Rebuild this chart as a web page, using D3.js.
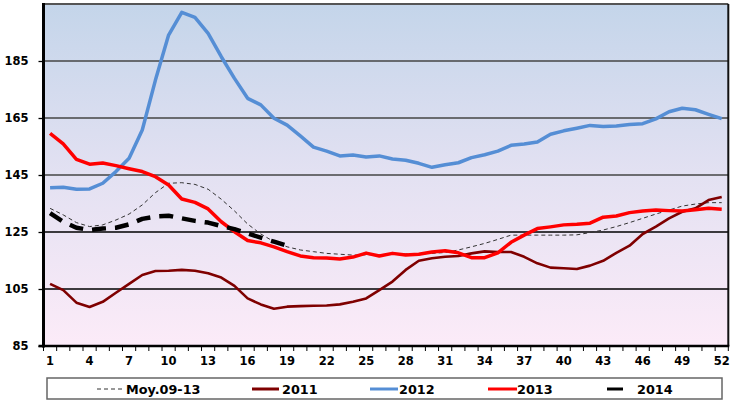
<!DOCTYPE html>
<html>
<head>
<meta charset="utf-8">
<script src="https://cdn.jsdelivr.net/npm/d3@7"></script>
<style>
html,body{margin:0;padding:0;background:#fff;}
svg{display:block;font-family:"DejaVu Sans",Arial,sans-serif;}
</style>
</head>
<body>
<svg id="chart" width="734" height="404"></svg>
<script>
const weeks = d3.range(1, 53);
const xTickLabels = [1,4,7,10,13,16,19,22,25,28,31,34,37,40,43,46,49,52];
const yTicks = [85,105,125,145,165,185];

const moy = [133.3,131.0,128.3,126.9,127.5,129.2,131.3,134.5,138.8,142.1,142.3,141.7,140.0,136.5,132.4,127.8,124.3,121.6,119.8,118.7,118.1,117.5,117.2,116.9,117.0,117.1,117.2,117.3,117.4,117.5,117.8,118.7,119.8,121.0,122.4,123.9,123.9,123.9,123.9,123.9,124.0,124.8,125.7,126.9,128.3,129.8,131.3,132.7,134.1,134.8,135.3,135.3];
const s2011 = [106.8,104.6,100.2,98.7,100.5,103.7,106.8,109.9,111.3,111.4,111.7,111.4,110.5,109.0,106.1,101.7,99.6,98.1,98.8,99.0,99.1,99.2,99.6,100.5,101.7,104.6,107.6,111.7,114.9,115.8,116.3,116.6,117.5,118.2,118.0,118.0,116.3,114.0,112.5,112.3,112.0,113.2,114.9,117.7,120.2,124.3,126.9,129.8,132.1,133.3,136.2,137.3];
const s2012 = [140.5,140.7,140.0,140.1,142.1,146.2,150.9,160.8,178.3,194.1,202.1,200.3,194.7,186.5,178.9,171.9,169.6,164.9,162.5,158.7,154.8,153.4,151.7,152.0,151.3,151.7,150.6,150.2,149.1,147.7,148.6,149.3,151.1,152.1,153.4,155.4,155.9,156.6,159.3,160.5,161.4,162.4,162.0,162.2,162.7,163.0,164.7,167.2,168.4,167.9,166.3,164.8];
const s2013 = [159.6,155.9,150.5,148.8,149.2,148.3,147.2,146.2,144.4,141.5,136.6,135.4,133.1,128.6,125.1,122.0,121.2,119.8,118.1,116.6,116.0,115.9,115.5,116.2,117.6,116.6,117.5,116.9,117.2,118.0,118.4,117.7,116.0,116.0,117.7,121.4,123.9,126.2,126.8,127.5,127.7,128.1,130.2,130.6,131.8,132.4,132.7,132.5,132.4,132.8,133.3,133.0];
const s2014 = [131.6,128.6,126.5,125.7,126.2,126.5,127.7,129.6,130.4,130.7,129.8,128.9,128.3,127.1,126.0,124.5,123.0,121.6,120.2];

const seriesList = [
  {name:"Moy.09-13", values:moy, color:"#333", width:1, dash:"4,3"},
  {name:"2011", values:s2011, color:"#7f0000", width:2.6, dash:null},
  {name:"2012", values:s2012, color:"#558ed5", width:3.5, dash:null},
  {name:"2013", values:s2013, color:"#ff0000", width:3.5, dash:null},
  {name:"2014", values:s2014, color:"#000", width:4.5, dash:"14,9"}
];

const svg = d3.select("#chart");
const L = 43.5, R = 728.3, T = 4, B = 346;

const x = d3.scaleBand().domain(weeks).range([L, R]).padding(0);
const y = d3.scaleLinear().domain([85, 205]).range([B, T]);

const defs = svg.append("defs");
const grad = defs.append("linearGradient").attr("id","bg").attr("x1",0).attr("y1",0).attr("x2",0).attr("y2",1);
grad.append("stop").attr("offset","0%").attr("stop-color","#c4d5ea");
grad.append("stop").attr("offset","50%").attr("stop-color","#e3e1f2");
grad.append("stop").attr("offset","100%").attr("stop-color","#fcebf8");

svg.append("rect").attr("x",L).attr("y",T).attr("width",R-L).attr("height",B-T).attr("fill","url(#bg)");

// gridlines
svg.append("g").selectAll("line").data(yTicks.filter(v=>v>85)).join("line")
  .attr("x1",L).attr("x2",R).attr("y1",d=>y(d)).attr("y2",d=>y(d))
  .attr("stroke",d=> d>=145 ? "#444" : "#000").attr("stroke-width",1.3);

// frame top/right
svg.append("line").attr("x1",L).attr("x2",R).attr("y1",T).attr("y2",T).attr("stroke","#555").attr("stroke-width",2);
svg.append("line").attr("x1",R).attr("x2",R).attr("y1",T).attr("y2",B).attr("stroke","#111").attr("stroke-width",2);

// lines
const line = d3.line().x((d,i)=>x(weeks[i]) + x.bandwidth()/2).y(d=>y(d));
seriesList.forEach(s=>{
  svg.append("path").datum(s.values).attr("d",line)
    .attr("fill","none").attr("stroke",s.color).attr("stroke-width",s.width)
    .attr("stroke-linejoin","round")
    .attr("stroke-dasharray",s.dash);
});

// axes
const yAxis = d3.axisLeft(y).tickValues(yTicks).tickSize(5).tickPadding(10);
const gy = svg.append("g").attr("transform",`translate(${L},0)`).call(yAxis);
gy.select(".domain").remove();
gy.selectAll(".tick line").attr("stroke","#000").attr("stroke-width",1.3);
gy.selectAll("text").attr("font-family","DejaVu Sans").attr("font-size","11.5px").attr("font-weight","bold").attr("fill","#000");

const gx = svg.append("g").attr("transform",`translate(0,${B})`);
gx.selectAll("line.t").data(d3.range(0,53)).join("line").attr("class","t")
  .attr("x1",d=>L + d*x.bandwidth()).attr("x2",d=>L + d*x.bandwidth())
  .attr("y1",0).attr("y2",5).attr("stroke","#000").attr("stroke-width",1);
gx.selectAll("text").data(xTickLabels).join("text")
  .attr("x",d=>x(d)+x.bandwidth()/2).attr("y",18.5)
  .attr("text-anchor","middle").attr("font-size","11.5px").attr("font-weight","bold").attr("fill","#000")
  .text(d=>d);

// thick left & bottom axes
svg.append("line").attr("x1",L).attr("x2",L).attr("y1",T-1).attr("y2",B+1.5).attr("stroke","#000").attr("stroke-width",3);
svg.append("line").attr("x1",L-5).attr("x2",R+1).attr("y1",B).attr("y2",B).attr("stroke","#000").attr("stroke-width",2.5);

// legend
const lg = svg.append("g");
lg.append("rect").attr("x",47).attr("y",378).attr("width",675).attr("height",21)
  .attr("fill","#fff").attr("stroke","#666").attr("stroke-width",1.5);
const legPos = [
  {lx1:97, lx2:122, tx:126},
  {lx1:252, lx2:279, tx:282},
  {lx1:370, lx2:398, tx:399},
  {lx1:488, lx2:517, tx:517},
  {lx1:607, lx2:623, tx:637}
];
seriesList.forEach((s,i)=>{
  const p = legPos[i];
  lg.append("line").attr("x1",p.lx1).attr("x2",p.lx2).attr("y1",389).attr("y2",389)
    .attr("stroke",s.color).attr("stroke-width", i===0?1:3)
    .attr("stroke-dasharray", i===0 ? "4,3" : null);
  lg.append("text").attr("x",p.tx).attr("y",393.5).attr("font-size","12.8px").attr("font-weight","bold")
    .attr("fill","#000").text(s.name);
});
</script>
</body>
</html>
